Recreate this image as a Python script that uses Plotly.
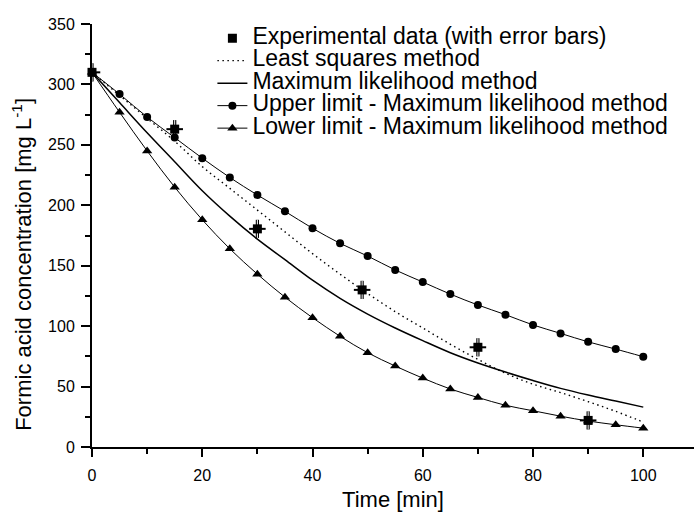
import plotly.graph_objects as go

# Experimental data
t_exp = [0, 15, 30, 49, 70, 90]
c_exp = [310, 263, 180.5, 130, 82.5, 22]
err_c = [7.5, 7.5, 7.5, 7.5, 7.5, 7.5]
err_t = [1.5, 1.5, 1.5, 1.5, 1.5, 1.5]

# Model curves (every 5 min)
t_model = [0, 5, 10, 15, 20, 25, 30, 35, 40, 45, 50, 55, 60, 65, 70, 75, 80, 85, 90, 95, 100]
c_ls = [310, 291, 272, 253, 232, 214, 196, 178, 160, 143, 127, 112, 98.5, 85, 72.5, 61, 52, 45, 37.5, 29.5, 20.6]
c_ml = [310, 285, 260, 236, 212, 191, 172, 155, 138, 123, 110, 98.5, 88, 78, 69.5, 62, 55, 48.5, 43, 38, 33]
c_up = [310, 292, 273, 256, 239, 223, 208.5, 195, 181, 168.5, 158, 146.5, 136.5, 126.5, 117.5, 109.5, 101, 94, 87, 81, 74.7]
c_lo = [310, 277, 245, 215, 188, 164, 143, 124, 107, 91.6, 78, 67, 57, 48, 41, 34.5, 30, 25.5, 21.5, 18.4, 15.6]

legend_names = [
    "Experimental data (with error bars)",
    "Least squares method",
    "Maximum likelihood method",
    "Upper limit - Maximum likelihood method",
    "Lower limit - Maximum likelihood method",
]
x_title = "Time [min]"
y_title = "Formic acid concentration [mg L<sup>-1</sup>]"

FONT = "Liberation Sans, Arial, sans-serif"


def big(s):
    return '<span style="font-size:23px">' + s + "</span>"


fig = go.Figure()

fig.add_trace(go.Scatter(
    x=t_exp, y=c_exp, mode="markers", showlegend=False,
    marker=dict(size=1, color="rgba(0,0,0,0)"),
    error_y=dict(type="data", array=err_c, color="black", thickness=3.2, width=0),
    error_x=dict(type="data", array=err_t, color="black", thickness=2, width=0),
    cliponaxis=False, hoverinfo="skip"))
fig.add_trace(go.Scatter(
    x=t_exp, y=c_exp, mode="markers", showlegend=False,
    marker=dict(size=1, color="rgba(0,0,0,0)"),
    error_y=dict(type="data", array=err_c, color="white", thickness=1, width=0),
    cliponaxis=False, hoverinfo="skip"))

fig.add_trace(go.Scatter(
    x=t_exp, y=c_exp, mode="markers", name=big(legend_names[0]),
    marker=dict(symbol="square", size=9, color="black"), cliponaxis=False))
fig.add_trace(go.Scatter(
    x=t_model, y=c_ls, mode="lines", name=big(legend_names[1]),
    line=dict(color="black", width=1.4, dash="1.5px,3.5px", shape="spline"), cliponaxis=False))
fig.add_trace(go.Scatter(
    x=t_model, y=c_ml, mode="lines", name=big(legend_names[2]),
    line=dict(color="black", width=1.5, shape="spline"), cliponaxis=False))
fig.add_trace(go.Scatter(
    x=t_model, y=c_up, mode="lines+markers", name=big(legend_names[3]),
    line=dict(color="black", width=1, shape="spline"),
    marker=dict(symbol="circle", size=8, color="black"), cliponaxis=False))
fig.add_trace(go.Scatter(
    x=t_model, y=c_lo, mode="lines+markers", name=big(legend_names[4]),
    line=dict(color="black", width=1, shape="spline"),
    marker=dict(symbol="triangle-up", size=9, color="black"), cliponaxis=False))

fig.update_layout(
    width=694, height=514,
    margin=dict(l=92, r=0, t=24, b=67),
    paper_bgcolor="white", plot_bgcolor="white",
    font=dict(family=FONT, color="black"),
    legend=dict(x=0.200, y=1.005, xanchor="left", yanchor="top",
                font=dict(size=15, family=FONT), bgcolor="rgba(0,0,0,0)",
                tracegroupgap=0, itemwidth=30),
    annotations=[dict(
        text=y_title, textangle=-90, xref="paper", yref="paper",
        x=-0.1163, y=0.433, xanchor="center", yanchor="middle",
        showarrow=False, font=dict(size=22, family=FONT))],
)
fig.update_xaxes(
    range=[0, 109.2], showgrid=False, zeroline=False,
    showline=True, linecolor="black", linewidth=2,
    ticks="outside", ticklen=8, tickwidth=1.5, tickcolor="black",
    tick0=0, dtick=20, tickfont=dict(size=16, family=FONT), ticklabelstandoff=5,
    minor=dict(ticks="outside", ticklen=5, tickwidth=1.5, tickcolor="black", dtick=10, showgrid=False),
    title=dict(text=x_title, font=dict(size=22, family=FONT), standoff=8),
)
fig.update_yaxes(
    range=[0, 350], showgrid=False, zeroline=False,
    showline=True, linecolor="black", linewidth=2,
    ticks="outside", ticklen=9, tickwidth=1.5, tickcolor="black",
    tick0=0, dtick=50, tickfont=dict(size=16, family=FONT), ticklabelstandoff=3,
    minor=dict(ticks="outside", ticklen=5, tickwidth=1.5, tickcolor="black", dtick=25, showgrid=False),
)

fig.write_html("out.html")
